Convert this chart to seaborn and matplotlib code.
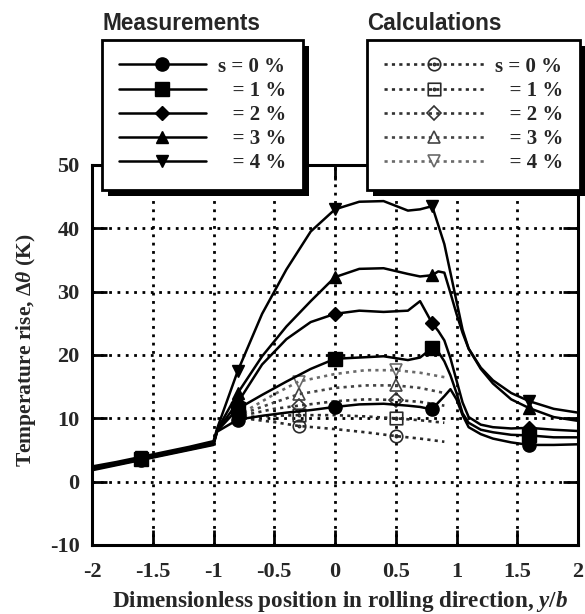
import numpy as np
import pandas as pd
import matplotlib
matplotlib.use("Agg")
import matplotlib.pyplot as plt
import seaborn as sns
from matplotlib.patches import Rectangle
from matplotlib.path import Path
from matplotlib.font_manager import FontProperties

# ---------------- data ----------------
x_meas = [-2.0, -1.8, -1.6, -1.4, -1.2, -1.0, -0.97, -0.8, -0.6, -0.4, -0.2, 0.0,
          0.2, 0.4, 0.6, 0.7, 0.8, 0.85, 0.9, 0.95, 1.0, 1.05, 1.1, 1.2, 1.3,
          1.45, 1.6, 1.8, 2.0]
meas_s0 = [1.8, 2.6, 3.4, 4.2, 5.0, 5.8, 7.9, 9.8, 10.4, 10.9, 11.3, 11.8,
           12.2, 12.3, 12.0, 11.8, 11.4, 12.5, 13.5, 14.6, 13.0, 10.5, 8.6, 7.5, 6.8,
           6.2, 5.8, 5.8, 5.9]
meas_s1 = [2.0, 2.7, 3.5, 4.3, 5.1, 5.9, 8.0, 11.5, 13.7, 15.8, 17.8, 19.4,
           19.6, 19.8, 19.2, 19.6, 21.1, 20.5, 19.0, 16.8, 14.0, 10.8, 9.3, 8.2, 7.8,
           7.4, 7.3, 7.0, 7.0]
meas_s2 = [2.1, 2.8, 3.7, 4.4, 5.2, 6.0, 8.1, 12.5, 18.5, 22.5, 25.2, 26.5,
           27.0, 26.8, 27.0, 28.5, 25.0, 23.8, 22.3, 19.5, 16.0, 12.5, 10.2, 9.0, 8.6,
           8.4, 8.5, 8.2, 8.0]
meas_s3 = [2.2, 2.9, 3.6, 4.5, 5.3, 6.1, 8.2, 14.0, 19.8, 24.5, 28.5, 32.3,
           33.6, 33.7, 32.8, 32.4, 32.6, 33.2, 33.0, 29.8, 26.5, 23.5, 21.0, 17.8, 15.5,
           13.0, 11.6, 10.2, 9.6]
meas_s4 = [2.4, 3.1, 3.9, 4.7, 5.5, 6.4, 8.4, 17.5, 26.5, 33.5, 39.5, 43.0,
           44.2, 44.3, 42.8, 43.0, 43.5, 40.5, 37.5, 33.0, 28.5, 24.0, 21.0, 18.0, 16.0,
           14.0, 12.7, 11.5, 10.9]
meas_marker_x = [-1.6, -0.8, 0.0, 0.8, 1.6]

x_calc = [-0.75, -0.5, -0.3, 0.0, 0.25, 0.5, 0.7, 0.9]
calc_s0 = [10.0, 9.4, 8.8, 8.3, 7.8, 7.2, 6.8, 6.3]
calc_s1 = [10.2, 10.4, 10.5, 10.5, 10.3, 10.0, 9.7, 9.3]
calc_s2 = [10.5, 11.5, 12.0, 12.7, 13.0, 12.9, 12.6, 12.0]
calc_s3 = [10.8, 12.5, 13.8, 14.8, 15.2, 15.2, 14.8, 14.0]
calc_s4 = [11.0, 13.8, 15.8, 17.0, 17.6, 17.6, 17.2, 16.5]
calc_marker_x = [-0.3, 0.5]

series_labels = ["s = 0 %", "  \u2009= 1 %", "  \u2009= 2 %", "  \u2009= 3 %", "  \u2009= 4 %"]
xticks = [-2, -1.5, -1, -0.5, 0, 0.5, 1, 1.5, 2]
xtick_labels = ["-2", "-1.5", "-1", "-0.5", "0", "0.5", "1", "1.5", "2"]
yticks = [-10, 0, 10, 20, 30, 40, 50]
ytick_labels = ["-10", "0", "10", "20", "30", "40", "50"]

# ---------------- style ----------------
sns.set_style("ticks")
plt.rcParams.update({
    "font.family": ["Liberation Serif", "DejaVu Serif"],
    "font.weight": "bold",
    "axes.unicode_minus": False,
    "mathtext.fontset": "custom",
    "mathtext.rm": "Liberation Serif:bold",
    "mathtext.it": "Liberation Serif:italic:bold",
    "mathtext.bf": "Liberation Serif:bold",
})

W, H = 585, 614
fig = plt.figure(figsize=(W / 100, H / 100), dpi=100)
ax = fig.add_axes([92 / W, 1 - 545 / H, (578 - 92) / W, (545 - 165) / H])

def dot_marker(base):
    inner = Path.unit_circle()
    inner = Path(inner.vertices * 0.18, inner.codes)
    return Path.make_compound_path(base, inner)

square_path = Path([(-1, -1), (1, -1), (1, 1), (-1, 1), (-1, -1)],
                   [Path.MOVETO, Path.LINETO, Path.LINETO, Path.LINETO, Path.CLOSEPOLY])

meas_list = [meas_s0, meas_s1, meas_s2, meas_s3, meas_s4]
meas_markers = ["o", "s", "D", "^", "v"]
meas_msize = [9.5, 9.5, 7, 9, 9]
mark_idx = [x_meas.index(v) for v in meas_marker_x]

meas_handles = []
for vals, mk, ms, lab in zip(meas_list, meas_markers, meas_msize, series_labels):
    df = pd.DataFrame({"y/b": x_meas, "dT": vals})
    sns.lineplot(data=df, x="y/b", y="dT", ax=ax, color="black", lw=1.8,
                 marker=mk, markersize=ms, markevery=mark_idx,
                 markerfacecolor="black", markeredgecolor="black",
                 markeredgewidth=1, legend=False, label=lab, zorder=4)
    meas_handles.append(ax.lines[-1])

calc_list = [calc_s0, calc_s1, calc_s2, calc_s3, calc_s4]
calc_markers = [dot_marker(Path.unit_circle()), dot_marker(square_path), "D", "^", "v"]
calc_msize = [9, 9, 7, 9, 9]
calc_colors = ["#2a2a2a", "#2a2a2a", "#333333", "#444444", "#6a6a6a"]
cidx = [x_calc.index(v) for v in calc_marker_x]
calc_handles = []
for vals, mk, ms, col, lab in zip(calc_list, calc_markers, calc_msize, calc_colors, series_labels):
    df = pd.DataFrame({"y/b": x_calc, "dT": vals})
    sns.lineplot(data=df, x="y/b", y="dT", ax=ax, color=col, lw=1.9,
                 linestyle=(0, (1.2, 1.6)),
                 marker=mk, markersize=ms, markevery=cidx,
                 markerfacecolor="none", markeredgecolor=col,
                 markeredgewidth=1.2, legend=False, label=lab, zorder=3)
    calc_handles.append(ax.lines[-1])

ax.set_xlim(-2, 2)
ax.set_ylim(-10, 50)
ax.set_xticks(xticks)
ax.set_xticklabels(xtick_labels)
ax.set_yticks(yticks)
ax.set_yticklabels(ytick_labels)
ax.set_xlabel("")
ax.set_ylabel("")
ax.grid(True, color="black", linestyle=(0, (1, 2)), linewidth=2)
ax.tick_params(axis="both", direction="in", length=11, width=2, labelsize=16,
               top=True, right=True, color="black")
ax.tick_params(axis="y", pad=9)
ax.tick_params(axis="x", pad=12)
for s in ax.spines.values():
    s.set_linewidth(2.2)
    s.set_color("black")
for lab in ax.get_xticklabels() + ax.get_yticklabels():
    lab.set_fontweight("bold")

fig.text(340 / W, 1 - 602 / H,
         r"Dimensionless position in rolling direction, $\mathit{y/b}$",
         ha="center", va="center", fontsize=16.7, fontweight="bold")
fig.text(26 / W, 1 - 350 / H, r"Temperature rise, $\mathit{\Delta\theta}$ (K)",
         ha="center", va="center", rotation=90, fontsize=15.5, fontweight="bold")

# ---------------- legends ----------------
lprop = FontProperties(family="Liberation Serif", weight="bold", size=15)
common = dict(loc="upper left", bbox_transform=fig.transFigure, frameon=True,
              fancybox=False, edgecolor="black", framealpha=1, facecolor="white",
              prop=lprop, handletextpad=0.55, labelspacing=0.2, borderpad=0.8,
              borderaxespad=0, numpoints=1)
leg1 = fig.legend(meas_handles, series_labels, bbox_to_anchor=(102 / W, 1 - 40 / H),
                  handlelength=4.2, **common)
leg2 = fig.legend(calc_handles, series_labels, bbox_to_anchor=(367 / W, 1 - 40 / H),
                  handlelength=4.8, **common)
for lg in (leg1, leg2):
    lg.get_frame().set_linewidth(2)
    lg.set_zorder(6)

fig.text(102 / W, 1 - 23 / H, "Measurements", family="Liberation Sans",
         weight="bold", size=16.3, ha="left", va="center")
fig.text(367 / W, 1 - 23 / H, "Calculations", family="Liberation Sans",
         weight="bold", size=16.3, ha="left", va="center")

fig.canvas.draw()
off = 6
for lg in (leg1, leg2):
    bb = lg.get_window_extent()
    r = Rectangle(((bb.x0 + off) / W, (bb.y0 - off) / H), bb.width / W, bb.height / H,
                  transform=fig.transFigure, facecolor="black", edgecolor="none",
                  zorder=5.5)
    fig.add_artist(r)

fig.savefig("out.png", dpi=100)
